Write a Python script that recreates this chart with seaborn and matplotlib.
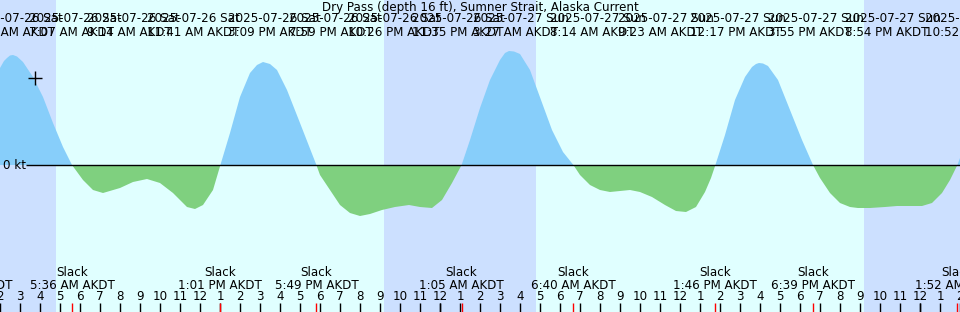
import numpy as np
import matplotlib
matplotlib.use("Agg")
import matplotlib.pyplot as plt
import seaborn as sns

# time axis: hours since 2025-07-26 00:00 AKDT
t_start, t_end = 2.0, 50.0

# current readings (hours, knots)
hours = [2.00, 2.20, 2.35, 2.50, 2.65, 2.85, 3.15, 3.65, 4.15, 4.65, 5.15, 5.60, 6.15, 6.65,
         7.15, 8.00, 8.65, 9.35, 10.00, 10.65, 11.35, 11.75, 12.15, 12.65, 13.02, 13.50,
         14.00, 14.50, 14.85, 15.15, 15.50, 15.85, 16.35, 17.00, 17.82, 18.00, 18.50, 19.00,
         19.50, 20.00, 20.50, 21.10, 21.75, 22.45, 23.00, 23.60, 24.10, 24.60, 25.08, 25.50,
         26.00, 26.50, 27.00, 27.25, 27.45, 27.70, 28.00, 28.50, 29.05, 29.60, 30.15, 30.67,
         31.00, 31.50, 32.00, 32.50, 33.00, 33.50, 34.00, 34.60, 35.25, 35.80, 36.30, 36.80,
         37.25, 37.55, 37.77, 38.25, 38.75, 39.25, 39.60, 39.80, 39.95, 40.15, 40.40, 40.90,
         41.50, 42.10, 42.65, 43.00, 43.50, 44.00, 44.50, 44.90, 45.50, 46.25, 46.85, 47.50,
         48.10, 48.60, 49.10, 49.50, 49.87, 50.00]
knots = [1.94, 2.08, 2.14, 2.19, 2.20, 2.17, 2.06, 1.76, 1.36, 0.84, 0.36, 0.00, -0.30, -0.50,
         -0.56, -0.46, -0.34, -0.28, -0.36, -0.56, -0.84, -0.88, -0.80, -0.50, 0.00, 0.64,
         1.36, 1.84, 2.00, 2.06, 2.02, 1.90, 1.50, 0.84, 0.00, -0.20, -0.50, -0.80,
         -0.96, -1.02, -0.98, -0.90, -0.84, -0.80, -0.84, -0.86, -0.70, -0.36, 0.00, 0.50,
         1.14, 1.70, 2.10, 2.24, 2.28, 2.27, 2.22, 1.90, 1.30, 0.70, 0.26, 0.00,
         -0.20, -0.40, -0.50, -0.54, -0.52, -0.50, -0.54, -0.64, -0.80, -0.92, -0.94, -0.84,
         -0.54, -0.26, 0.00, 0.60, 1.30, 1.76, 1.96, 2.02, 2.04, 2.03, 1.98, 1.70,
         1.10, 0.50, 0.00, -0.26, -0.56, -0.76, -0.84, -0.86, -0.86, -0.84, -0.82, -0.82,
         -0.82, -0.76, -0.56, -0.30, 0.00, 0.14]

# night periods (sunset 9:12 PM, sunrise 4:48 AM)
night_start = [2.0, 21.2, 45.2]
night_end = [4.8, 28.8, 50.0]

# slack water events
slack_hours = [0.33, 5.60, 13.02, 17.82, 25.08, 30.67, 37.77, 42.65, 49.87]
slack_labels = ["12:20 AM AKDT", "5:36 AM AKDT", "1:01 PM AKDT", "5:49 PM AKDT",
                "1:05 AM AKDT", "6:40 AM AKDT", "1:46 PM AKDT", "6:39 PM AKDT",
                "1:52 AM AKDT"]

# max / min current events along the top
event_dates = ["2025-07-26 Sat"] * 8 + ["2025-07-27 Sun"] * 7
event_times = ["2:39 AM AKDT", "7:07 AM AKDT", "9:14 AM AKDT", "11:41 AM AKDT",
               "3:09 PM AKDT", "7:59 PM AKDT", "10:26 PM AKDT", "11:35 PM AKDT",
               "3:27 AM AKDT", "8:14 AM AKDT", "9:23 AM AKDT", "12:17 PM AKDT",
               "3:55 PM AKDT", "8:54 PM AKDT", "10:52 PM AKDT"]
# where each top label starts (hours)
event_label_pos = [0.50, 3.45, 6.35, 9.35, 13.40, 16.45, 19.40, 22.60,
                   25.65, 29.50, 32.90, 36.50, 40.40, 44.25, 48.25]

hour_ticks = list(range(2, 51))
midnights = [24, 48]
now_marker = (3.75, 1.74)

title = "Dry Pass (depth 16 ft), Sumner Strait, Alaska Current"

day_color = "#E0FFFF"
night_color = "#CCE0FF"
flood_color = "#87CEFA"
ebb_color = "#7FD07F"
FS = 8.6

sns.set_theme(style="white")
plt.rcParams['font.family'] = ['DejaVu Sans']

W, H = 960, 312
fig = plt.figure(figsize=(W / 100, H / 100), dpi=100)
ax = fig.add_axes([0, 0, 1, 1])
ax.set_facecolor(day_color)
ax.set_xlim(t_start, t_end)
ax.set_ylim((165 - 312) / 50, 165 / 50)
for s in ax.spines.values():
    s.set_visible(False)
ax.set_xticks([])
ax.set_yticks([])


def py(ypx):
    # pixel row -> knots
    return (165 - ypx) / 50


for a, b in zip(night_start, night_end):
    ax.axvspan(a, b, color=night_color, lw=0, zorder=0)

t = np.array(hours)
v = np.array(knots)
ax.fill_between(t, v, 0, where=v >= 0, interpolate=True, color=flood_color, lw=0, zorder=1)
ax.fill_between(t, v, 0, where=v <= 0, interpolate=True, color=ebb_color, lw=0, zorder=1)

ax.hlines(0, t_start + 26 / 20, t_end, color="black", lw=1, zorder=2)
ax.text(t_start + 3 / 20, 0, "0 kt", fontsize=FS, ha="left", va="center", color="black")
ax.plot(*now_marker, marker="+", ms=10, mew=1, color="black", zorder=3)

# bottom tick marks
tick_h = 9 / 312
sns.rugplot(x=hour_ticks, height=tick_h, color="black", lw=1, ax=ax, clip_on=False)
sns.rugplot(x=midnights, height=tick_h, color="black", lw=3, ax=ax, clip_on=False)
sns.rugplot(x=[s for s in slack_hours if t_start <= s <= t_end], height=tick_h,
            color="red", lw=1, ax=ax, clip_on=False)

for h in hour_ticks:
    lab = str(h % 12 if h % 12 else 12)
    ax.text(h, py(297), lab, fontsize=FS, ha="center", va="center", color="black")

for s, lab in zip(slack_hours, slack_labels):
    ax.text(s, py(273), "Slack", fontsize=FS, ha="center", va="center", color="black")
    ax.text(s, py(285.5), lab, fontsize=FS, ha="center", va="center", color="black")

ax.text((t_start + t_end) / 2, py(7), title, fontsize=FS, ha="center", va="center", color="black")
for x0, d, tm in zip(event_label_pos, event_dates, event_times):
    ax.text(x0, py(18), d, fontsize=FS, ha="left", va="center", color="black")
    ax.text(x0, py(32), tm, fontsize=FS, ha="left", va="center", color="black")

fig.savefig("out.png", dpi=100)
